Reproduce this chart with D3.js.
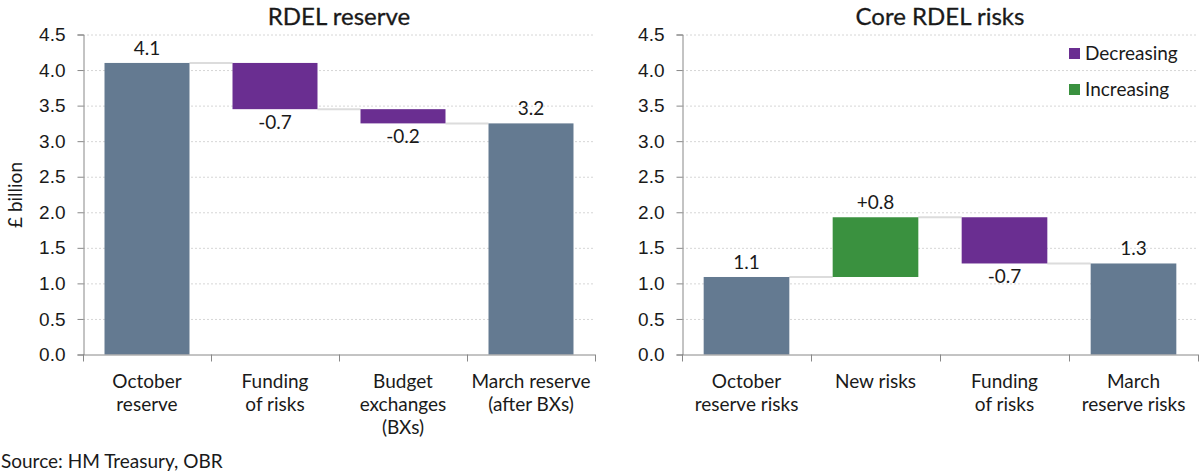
<!DOCTYPE html>
<html>
<head>
<meta charset="utf-8">
<script src="https://cdn.jsdelivr.net/npm/d3@7"></script>
<style>
    body { margin: 0; background: #fff; }
    svg { display: block; font-family: "Lato", "Open Sans", sans-serif; }
    .grid line { stroke: #d6d6d6; stroke-dasharray: 2,2; }
    .axis path, .axis line { stroke: #888; }
    .axis text { font-size: 19px; fill: #1a1a1a; }
</style>
</head>
<body>
<div id="chart"></div>
<script>
const leftCategories = [["October", "reserve"], ["Funding", "of risks"], ["Budget", "exchanges", "(BXs)"], ["March reserve", "(after BXs)"]];
const leftValues = [4.10, -0.65, -0.20, 3.25];
const leftKinds = ["total", "delta", "delta", "total"];
const leftLabels = ["4.1", "-0.7", "-0.2", "3.2"];

const rightCategories = [["October", "reserve risks"], ["New risks"], ["Funding", "of risks"], ["March", "reserve risks"]];
const rightValues = [1.09, 0.84, -0.65, 1.28];
const rightKinds = ["total", "delta", "delta", "total"];
const rightLabels = ["1.1", "+0.8", "-0.7", "1.3"];

const yTicks = [0, 0.5, 1, 1.5, 2, 2.5, 3, 3.5, 4, 4.5];
const legendKeys = ["Decreasing", "Increasing"];

const colors = {total: "#647a91", Decreasing: "#6a2e91", Increasing: "#3a913f"};

const width = 1200;
const height = 474;

const svg = d3.select("#chart").append("svg")
    .attr("width", width)
    .attr("height", height);

drawPanel({title: "RDEL reserve", x0: 83, x1: 595, cats: leftCategories, values: leftValues, kinds: leftKinds, labels: leftLabels, yLabel: true});
drawPanel({title: "Core RDEL risks", x0: 682, x1: 1198, cats: rightCategories, values: rightValues, kinds: rightKinds, labels: rightLabels, legend: true});

svg.append("text")
    .attr("x", 1)
    .attr("y", 468)
    .style("font-size", "19px")
    .style("fill", "#1a1a1a")
    .text("Source: HM Treasury, OBR");

function drawPanel(p) {
    const top = 34.5;
    const bottom = 354.5;
    const g = svg.append("g");

    const y = d3.scaleLinear().domain([0, 4.5]).range([bottom, top]);
    const x = d3.scaleBand()
        .domain(d3.range(p.cats.length))
        .range([p.x0, p.x1])
        .paddingInner(0.336)
        .paddingOuter(0.168);

    // running totals for the waterfall
    let running = 0;
    const bars = p.values.map((v, i) => {
        let start, end;
        if (p.kinds[i] === "total") {
            start = 0; end = v; running = v;
        } else {
            start = running; end = running + v; running = end;
        }
        const kind = p.kinds[i] === "total" ? "total" : (v < 0 ? "Decreasing" : "Increasing");
        return {i: i, start: start, end: end, kind: kind, label: p.labels[i]};
    });

    g.append("g")
        .attr("class", "grid")
        .selectAll("line")
        .data(yTicks.filter(d => d > 0))
        .enter()
        .append("line")
        .attr("x1", p.x0)
        .attr("x2", p.x1)
        .attr("y1", d => y(d) + 0.5)
        .attr("y2", d => y(d) + 0.5);

    // connectors between bars
    g.selectAll(".connector")
        .data(bars.slice(0, -1))
        .enter()
        .append("line")
        .attr("class", "connector")
        .attr("x1", d => x(d.i) + x.bandwidth())
        .attr("x2", d => x(d.i + 1))
        .attr("y1", d => y(d.end))
        .attr("y2", d => y(d.end))
        .style("stroke", "#dcdcdc")
        .style("stroke-width", 2);

    g.selectAll(".bar")
        .data(bars)
        .enter()
        .append("rect")
        .attr("class", "bar")
        .attr("x", d => x(d.i))
        .attr("width", x.bandwidth())
        .attr("y", d => y(Math.max(d.start, d.end)))
        .attr("height", d => Math.abs(y(d.start) - y(d.end)))
        .attr("fill", d => colors[d.kind]);

    g.selectAll(".value")
        .data(bars)
        .enter()
        .append("text")
        .attr("class", "value")
        .attr("x", d => x(d.i) + x.bandwidth() / 2)
        .attr("y", d => d.kind === "Decreasing" ? y(d.end) + 20 : y(d.end) - 8)
        .attr("text-anchor", "middle")
        .style("font-size", "19px")
        .style("fill", "#1a1a1a")
        .text(d => d.label);

    const yAxis = d3.axisLeft(y)
        .tickValues(yTicks)
        .tickFormat(d3.format(".1f"))
        .tickSizeOuter(0)
        .tickSize(6)
        .tickPadding(12);

    g.append("g")
        .attr("class", "axis y-axis")
        .attr("transform", `translate(${p.x0 + 0.5},0)`)
        .call(yAxis);

    // x axis: ticks sit on band boundaries
    const xa = g.append("g").attr("class", "axis x-axis");
    xa.append("line")
        .attr("x1", p.x0)
        .attr("x2", p.x1)
        .attr("y1", bottom + 0.5)
        .attr("y2", bottom + 0.5);
    xa.selectAll(".tick")
        .data(d3.range(p.cats.length + 1))
        .enter()
        .append("line")
        .attr("x1", d => Math.round(p.x0 + d * x.step()) + 0.5)
        .attr("x2", d => Math.round(p.x0 + d * x.step()) + 0.5)
        .attr("y1", bottom)
        .attr("y2", bottom + 7);

    xa.selectAll(".cat")
        .data(p.cats)
        .enter()
        .append("text")
        .attr("class", "cat")
        .attr("text-anchor", "middle")
        .attr("transform", (d, i) => `translate(${x(i) + x.bandwidth() / 2},388)`)
        .selectAll("tspan")
        .data(d => d)
        .enter()
        .append("tspan")
        .attr("x", 0)
        .attr("y", (d, i) => i * 23)
        .text(d => d);

    g.append("text")
        .attr("x", (p.x0 + p.x1) / 2)
        .attr("y", 25)
        .attr("text-anchor", "middle")
        .style("font-size", "24px")
        .style("fill", "#1a1a1a")
        .style("stroke", "#1a1a1a")
        .style("stroke-width", 0.3)
        .text(p.title);

    if (p.yLabel) {
        g.append("text")
            .attr("transform", "translate(22,195) rotate(-90)")
            .attr("text-anchor", "middle")
            .style("font-size", "19px")
            .style("fill", "#1a1a1a")
            .text("£ billion");
    }

    if (p.legend) {
        const item = g.selectAll(".legend")
            .data(legendKeys)
            .enter()
            .append("g")
            .attr("class", "legend")
            .attr("transform", (d, i) => `translate(1069,${48 + i * 36})`);

        item.append("rect")
            .attr("width", 11)
            .attr("height", 11)
            .attr("fill", d => colors[d]);

        item.append("text")
            .attr("x", 16)
            .attr("y", 12)
            .style("font-size", "19px")
            .style("fill", "#1a1a1a")
            .text(d => d);
    }
}
</script>
</body>
</html>
